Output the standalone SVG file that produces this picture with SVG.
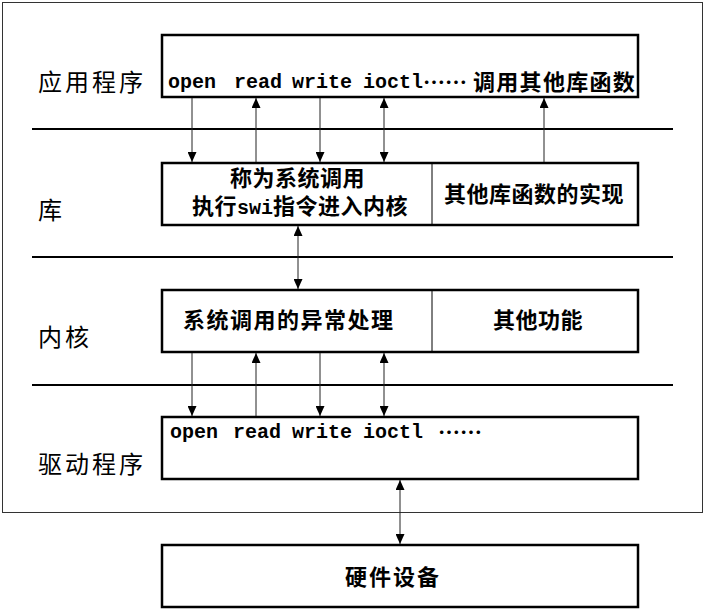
<svg xmlns="http://www.w3.org/2000/svg" width="722" height="614" viewBox="0 0 722 614">
<style>
.frame{fill:none;stroke:#333;stroke-width:1}
.box{fill:#fff;stroke:#000;stroke-width:2.5}
.div{stroke:#000;stroke-width:1}
.sep{stroke:#000;stroke-width:2}
.conn{stroke:#222;stroke-width:1;fill:none}
.lbl{font-family:"Noto Sans CJK SC",sans-serif;font-size:24px;letter-spacing:3px;fill:#000}
.cn{font-family:"Noto Sans CJK SC",sans-serif;font-size:22px;font-weight:bold;fill:#000}
.mono{font-family:"Liberation Mono","Courier New",monospace;font-size:20px;font-weight:bold;fill:#000}
</style>
<defs>
<marker id="ah" viewBox="0 0 10 9" refX="10" refY="4.5" markerWidth="10" markerHeight="9" orient="auto-start-reverse" markerUnits="userSpaceOnUse">
<path d="M0,0 L10,4.5 L0,9 z" fill="#000"/>
</marker>
</defs>
<rect id="frame" class="frame" x="2.5" y="2.5" width="700" height="510"/>
<g id="separators">
<line class="sep" x1="32" y1="129" x2="673" y2="129"/>
<line class="sep" x1="32" y1="257" x2="673" y2="257"/>
<line class="sep" x1="32" y1="385" x2="673" y2="385"/>
</g>
<g id="layer-labels">
<text class="lbl" x="38" y="91">应用程序</text>
<text class="lbl" x="38" y="219">库</text>
<text class="lbl" x="38" y="346">内核</text>
<text class="lbl" x="38" y="473">驱动程序</text>
</g>
<g id="app">
<rect class="box" x="162" y="35" width="476" height="62"/>
<text class="mono" x="168" y="88">open</text>
<text class="mono" x="234" y="88">read</text>
<text class="mono" x="292" y="88">write</text>
<text class="mono" x="363" y="88">ioctl</text>
<text class="cn" x="423" y="90">……</text>
<text class="cn" x="473" y="90" letter-spacing="1.3">调用其他库函数</text>
</g>
<g id="lib">
<rect class="box" x="162" y="163" width="476" height="62"/>
<line class="div" x1="432" y1="163" x2="432" y2="225"/>
<text class="cn" x="230" y="186" letter-spacing="0.5">称为系统调用</text>
<text class="cn" x="192" y="214" letter-spacing="0.5">执行<tspan class="mono" letter-spacing="0">swi</tspan>指令进入内核</text>
<text class="cn" x="444" y="202" letter-spacing="0.5">其他库函数的实现</text>
</g>
<g id="kernel">
<rect class="box" x="162" y="290" width="476" height="62"/>
<line class="div" x1="432" y1="290" x2="432" y2="352"/>
<text class="cn" x="183" y="328" letter-spacing="1.5">系统调用的异常处理</text>
<text class="cn" x="493" y="328" letter-spacing="0.5">其他功能</text>
</g>
<g id="driver">
<rect class="box" x="162" y="417" width="476" height="62"/>
<text class="mono" x="170" y="438">open</text>
<text class="mono" x="233" y="438">read</text>
<text class="mono" x="292" y="438">write</text>
<text class="mono" x="363" y="438">ioctl</text>
<text class="cn" x="438" y="440" font-size="20">……</text>
</g>
<g id="hardware">
<rect class="box" x="162" y="545" width="476" height="62"/>
<text class="cn" x="345" y="585" font-size="25" letter-spacing="2">硬件设备</text>
</g>
<g id="connectors">
<line class="conn" x1="192" y1="98" x2="192" y2="162" marker-end="url(#ah)"/>
<line class="conn" x1="256" y1="162" x2="256" y2="98" marker-end="url(#ah)"/>
<line class="conn" x1="320" y1="98" x2="320" y2="162" marker-end="url(#ah)"/>
<line class="conn" x1="384" y1="98" x2="384" y2="162" marker-start="url(#ah)" marker-end="url(#ah)"/>
<line class="conn" x1="544" y1="162" x2="544" y2="98" marker-end="url(#ah)"/>
<line class="conn" x1="298" y1="226" x2="298" y2="289" marker-start="url(#ah)" marker-end="url(#ah)"/>
<line class="conn" x1="192" y1="353" x2="192" y2="416" marker-end="url(#ah)"/>
<line class="conn" x1="256" y1="416" x2="256" y2="353" marker-end="url(#ah)"/>
<line class="conn" x1="320" y1="353" x2="320" y2="416" marker-end="url(#ah)"/>
<line class="conn" x1="384" y1="353" x2="384" y2="416" marker-start="url(#ah)" marker-end="url(#ah)"/>
<line class="conn" x1="400" y1="480" x2="400" y2="544" marker-start="url(#ah)" marker-end="url(#ah)"/>
</g>
</svg>
